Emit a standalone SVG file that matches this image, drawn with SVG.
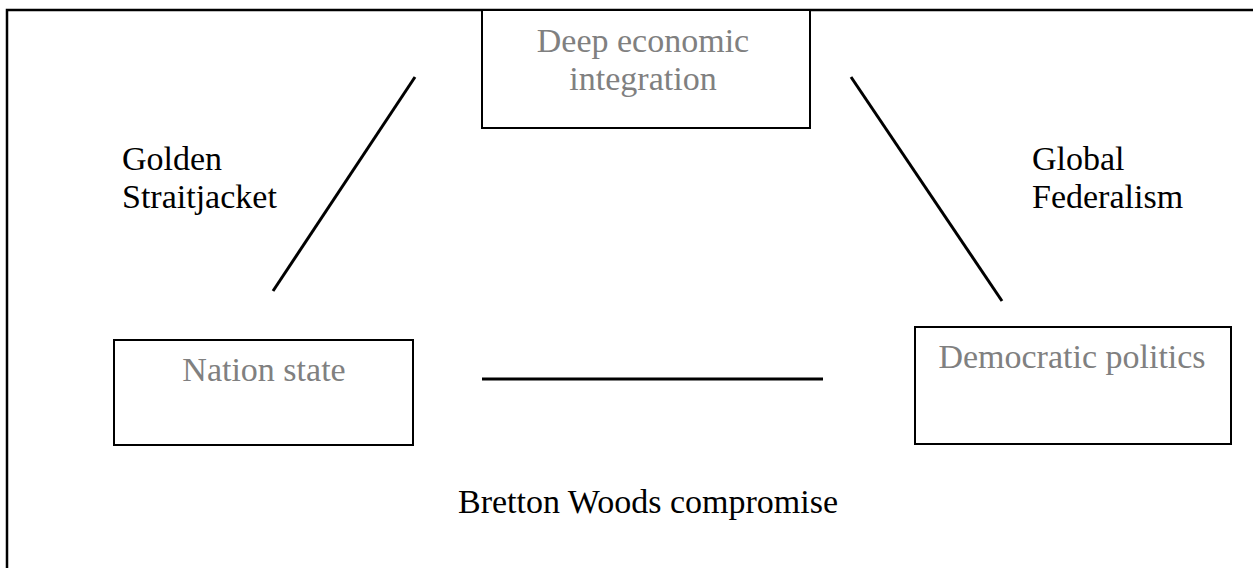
<svg xmlns="http://www.w3.org/2000/svg" width="1253" height="568" viewBox="0 0 1253 568">
<style>
.box{fill:#fff;stroke:#000;stroke-width:2}
.g{font-family:"Liberation Serif","Times New Roman",serif;font-size:34px;fill:#808080}
.k{font-family:"Liberation Serif","Times New Roman",serif;font-size:34px;fill:#000}
.ln{stroke:#000;stroke-width:3;fill:none}
</style>
<rect width="1253" height="568" fill="#fff"/>
<g id="frame">
<path d="M7 568 V10 H1253" fill="none" stroke="#000" stroke-width="2.5"/>
</g>
<g id="connectors">
<line class="ln" x1="415" y1="77" x2="273" y2="291"/>
<line class="ln" x1="851" y1="77" x2="1002" y2="301"/>
<line class="ln" x1="482" y1="379" x2="823" y2="379"/>
</g>
<g id="n-deep">
<rect class="box" x="482" y="10" width="328" height="118"/>
<text class="g" x="643" y="52" text-anchor="middle">Deep economic</text>
<text class="g" x="643" y="90" text-anchor="middle">integration</text>
</g>
<g id="n-nation">
<rect class="box" x="114" y="340" width="299" height="105"/>
<text class="g" x="264" y="381" text-anchor="middle">Nation state</text>
</g>
<g id="n-demo">
<rect class="box" x="915" y="327" width="316" height="117"/>
<text class="g" x="1072" y="368" text-anchor="middle">Democratic politics</text>
</g>
<g id="l-golden">
<text class="k" x="122" y="170">Golden</text>
<text class="k" x="122" y="208">Straitjacket</text>
</g>
<g id="l-global">
<text class="k" x="1032" y="170">Global</text>
<text class="k" x="1032" y="208">Federalism</text>
</g>
<g id="l-bretton">
<text class="k" x="458" y="513">Bretton Woods compromise</text>
</g>
</svg>
